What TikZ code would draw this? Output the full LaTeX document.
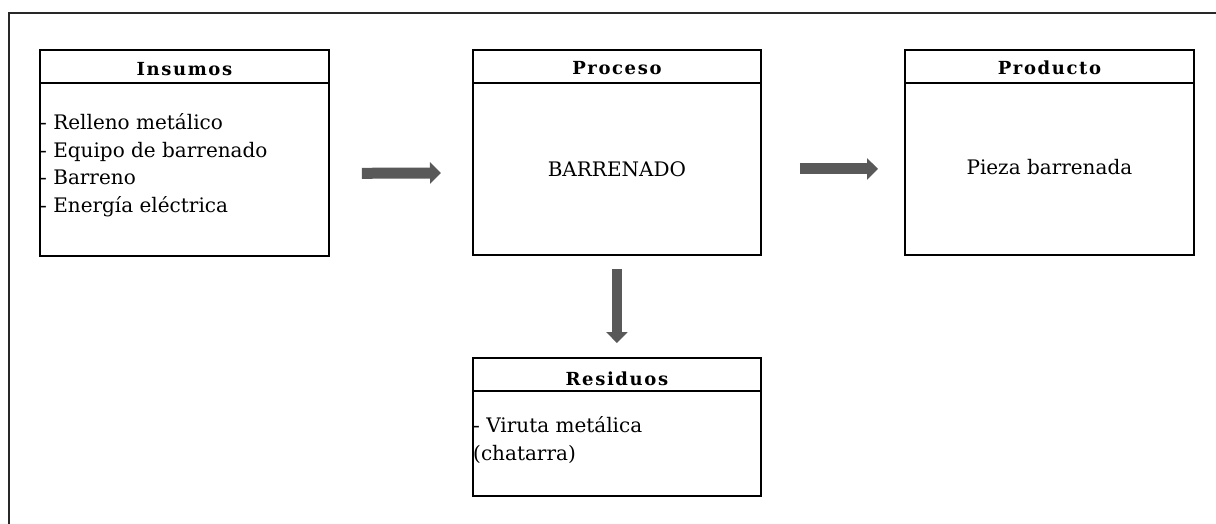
\documentclass[tikz,border=0pt]{standalone}
\usepackage{fontspec}
\setmainfont{DejaVu Serif}
\usetikzlibrary{arrows.meta,calc}
\definecolor{arrowgray}{RGB}{89,89,89}
\definecolor{framegray}{RGB}{40,40,40}
\tikzset{
  panel/.style={draw=black, line width=1.8pt, rectangle, anchor=north west, inner sep=0pt},
  headtext/.style={anchor=base, inner sep=0pt, font=\fontsize{18}{20}\selectfont\bfseries\addfontfeatures{LetterSpace=9}},
  bodytext/.style={inner sep=0pt, font=\fontsize{20}{27.5}\selectfont},
  bigarrow/.style={draw=arrowgray, line width=11pt, -{Triangle[length=11pt,width=21pt]}},
}
\begin{document}
\begin{tikzpicture}[x=1pt,y=-1pt]
  \useasboundingbox (0,0) rectangle (1216,524);
  % outer frame (top and left edges only)
  \draw[framegray, line width=2.2pt] (1216,13) -- (9,13) -- (9,524);

  % boxes
  \node[panel, minimum width=289pt, minimum height=206pt] (ins) at (39,49) {};
  \node[panel, minimum width=288pt, minimum height=205pt] (pro) at (472,49) {};
  \node[panel, minimum width=289pt, minimum height=205pt] (prd) at (904,49) {};
  \node[panel, minimum width=288pt, minimum height=138pt] (res) at (472,357) {};

  % header dividers
  \foreach \b in {ins,pro,prd,res}
    \draw[line width=1.2pt] ($(\b.north west)+(0,34)$) -- ($(\b.north east)+(0,34)$);

  % header titles
  \node[headtext] (insh) at ($(ins.north)+(0,27)$) {Insumos};
  \node[headtext] (proh) at ($(pro.north)+(0,26)$) {Proceso};
  \node[headtext] (prdh) at ($(prd.north)+(0,26)$) {Producto};
  \node[headtext] (resh) at ($(res.north)+(0,28)$) {Residuos};

  % body texts (base anchor sits on the last line of a multi-line node)
  \node[bodytext, anchor=base west, align=left] (insb) at ($(ins.north west)+(1,163)$)
    {- Relleno metálico\\- Equipo de barrenado\\- Barreno\\- Energía eléctrica};
  \node[bodytext, anchor=base] (prob) at ($(pro.north)+(0,127)$) {BARRENADO};
  \node[bodytext, anchor=base] (prdb) at ($(prd.north)+(0,126)$) {Pieza barrenada};
  \node[bodytext, anchor=base west, align=left] (resb) at ($(res.north west)+(1,103)$)
    {- Viruta metálica\\(chatarra)};

  % flow arrows
  \draw[bigarrow, shorten <=32pt, shorten >=31pt] ([yshift=-20.5pt]ins.east) -- ([yshift=-20.5pt]pro.west);
  \draw[bigarrow, shorten <=38pt, shorten >=26pt] ([yshift=-16.5pt]pro.east) -- ([yshift=-16.5pt]prd.west);
  \draw[bigarrow, line width=10pt, shorten <=13pt, shorten >=14pt] (pro.south) -- (res.north);
\end{tikzpicture}
\end{document}
